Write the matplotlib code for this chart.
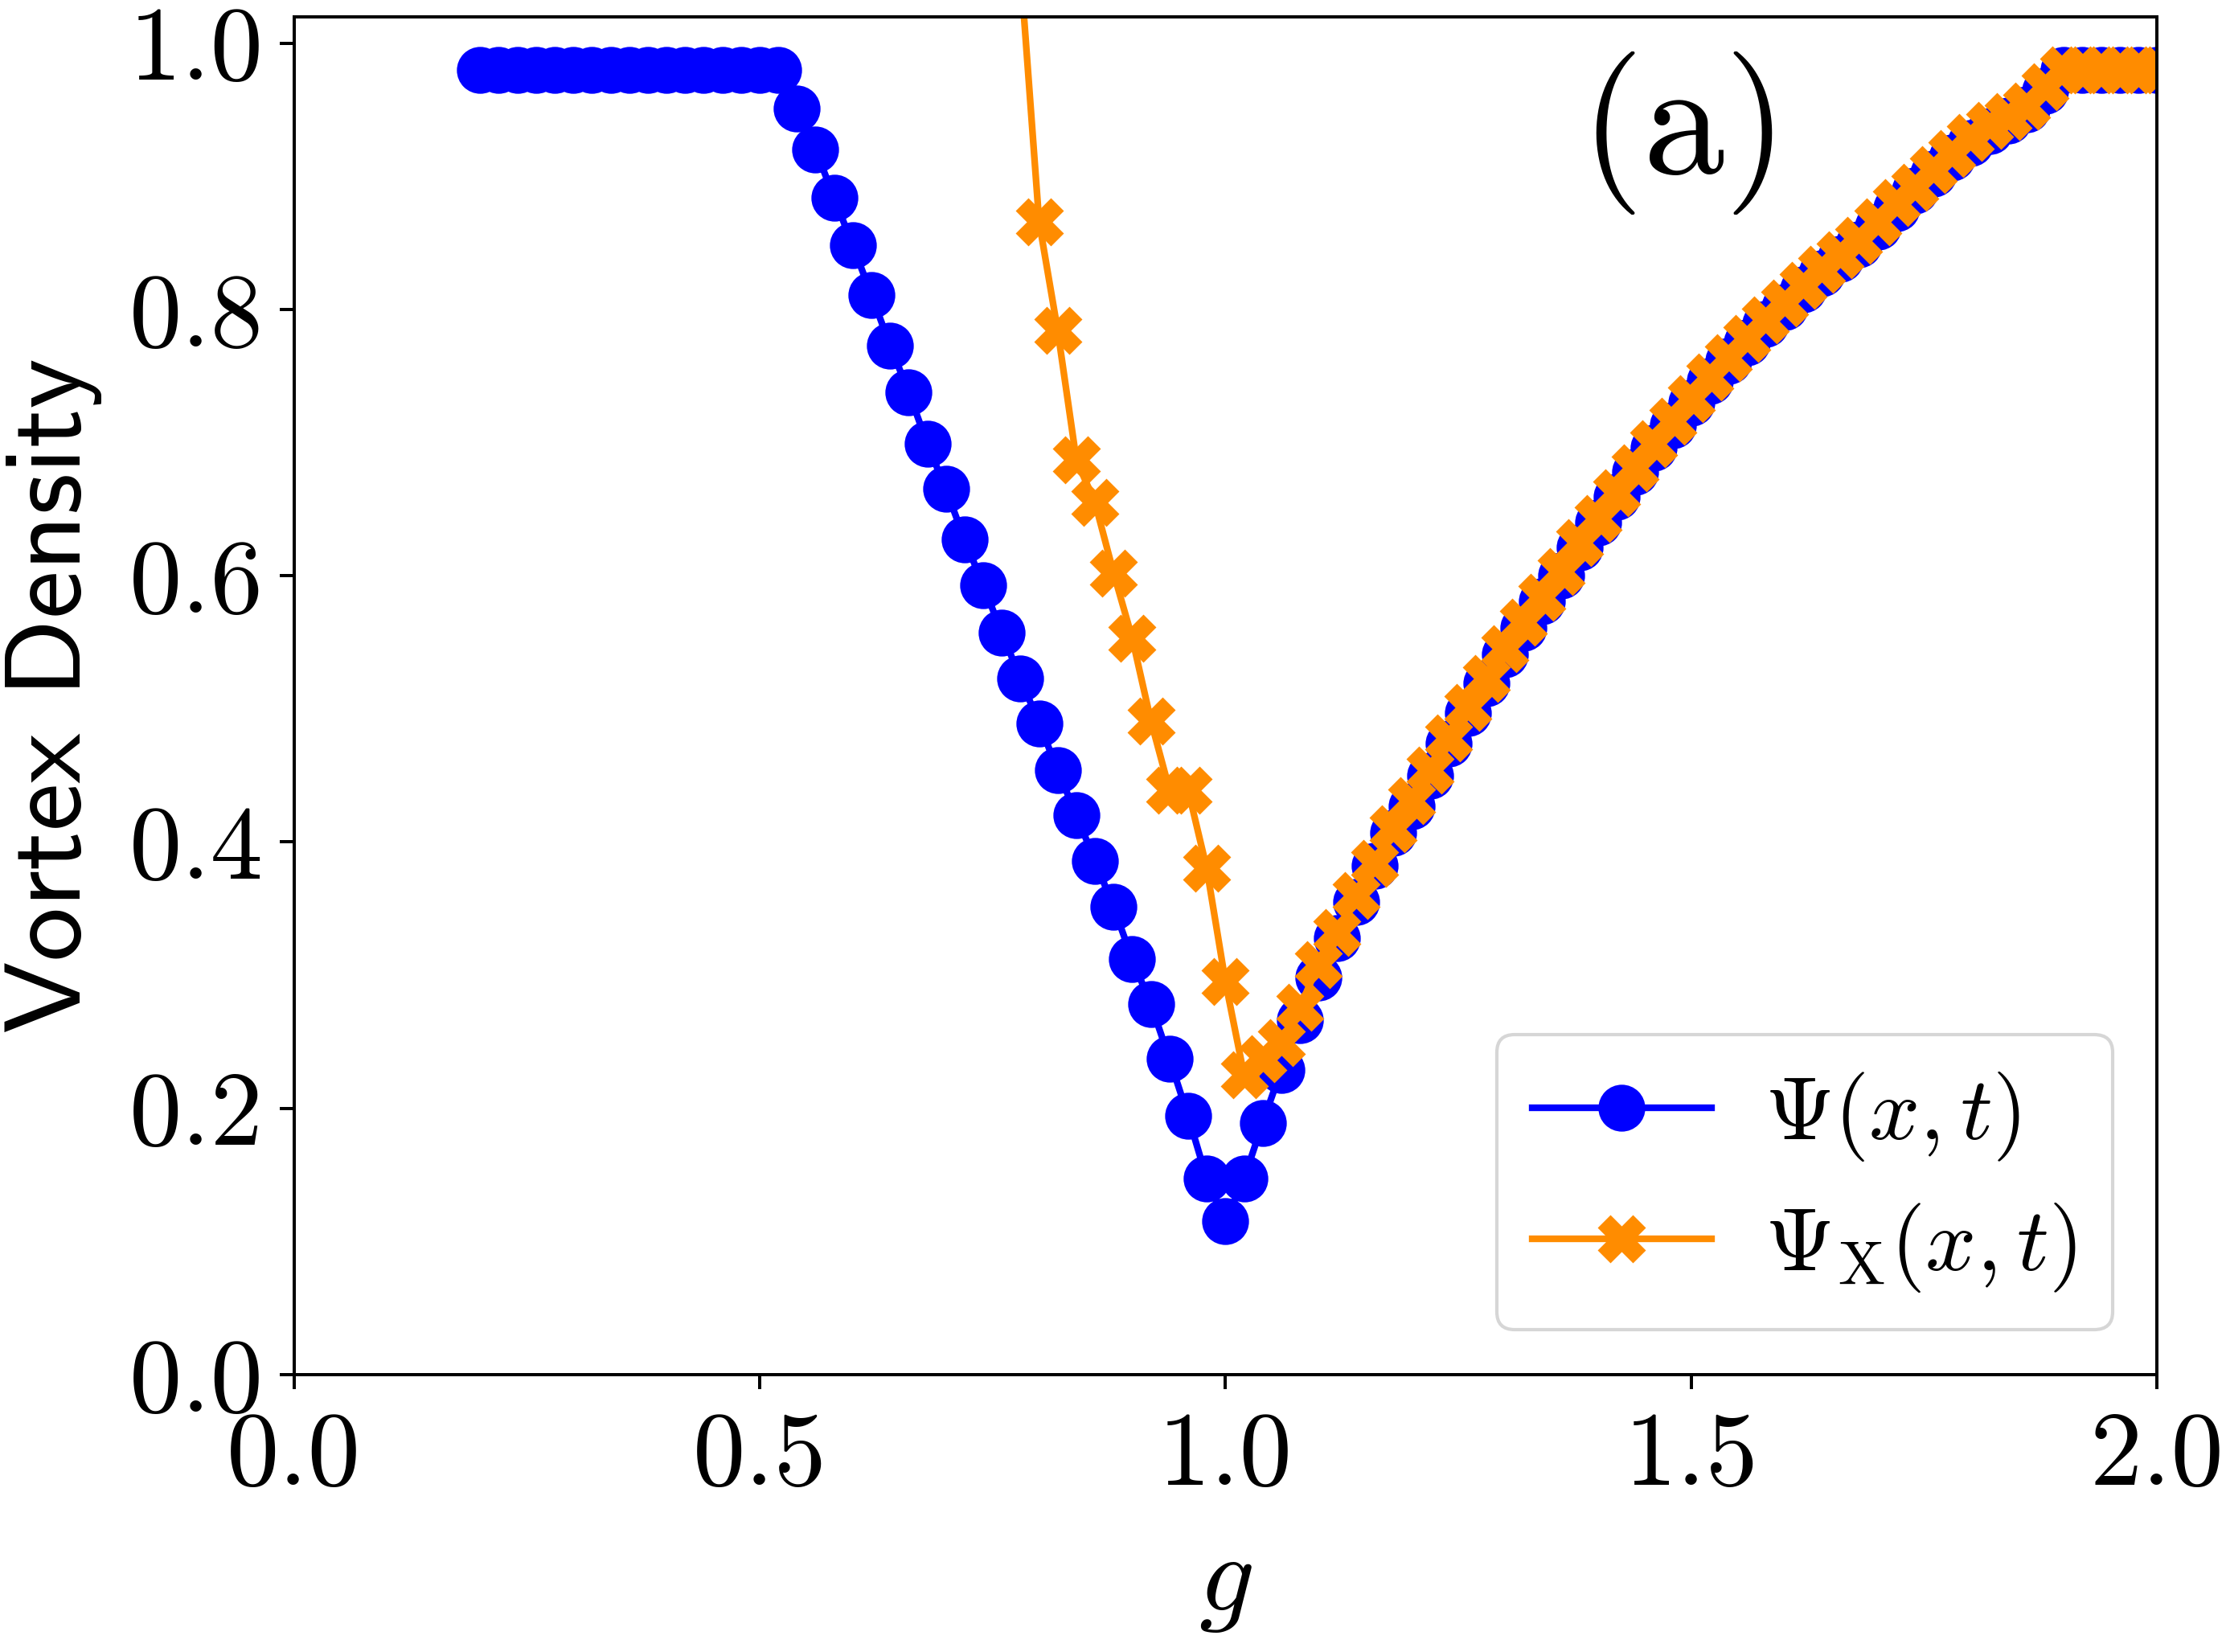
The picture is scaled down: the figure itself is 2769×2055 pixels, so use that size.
import matplotlib
matplotlib.use("Agg")
import matplotlib.pyplot as plt

plt.rcParams['mathtext.fontset'] = 'cm'
plt.rcParams['font.family'] = 'serif'
plt.rcParams['font.serif'] = ['cmr10']
plt.rcParams['axes.formatter.use_mathtext'] = True

# ---------------- data ----------------
g_psi = [0.20, 0.22, 0.24, 0.26, 0.28, 0.30, 0.32, 0.34, 0.36, 0.38, 0.40, 0.42,
         0.44, 0.46, 0.48, 0.50, 0.52, 0.54, 0.56, 0.58, 0.60, 0.62, 0.64, 0.66,
         0.68, 0.70, 0.72, 0.74, 0.76, 0.78, 0.80, 0.82, 0.84, 0.86, 0.88, 0.90,
         0.92, 0.94, 0.96, 0.98, 1.00, 1.02, 1.04, 1.06, 1.08, 1.10, 1.12, 1.14,
         1.16, 1.18, 1.20, 1.22, 1.24, 1.26, 1.28, 1.30, 1.32, 1.34, 1.36, 1.38,
         1.40, 1.42, 1.44, 1.46, 1.48, 1.50, 1.52, 1.54, 1.56, 1.58, 1.60, 1.62,
         1.64, 1.66, 1.68, 1.70, 1.72, 1.74, 1.76, 1.78, 1.80, 1.82, 1.84, 1.86,
         1.88, 1.90, 1.92, 1.94, 1.96, 1.98, 2.00]
v_psi = [0.980, 0.980, 0.980, 0.980, 0.980, 0.980, 0.980, 0.980, 0.980, 0.980,
         0.980, 0.980, 0.980, 0.980, 0.980, 0.980, 0.980, 0.951, 0.920, 0.884,
         0.848, 0.811, 0.773, 0.738, 0.699, 0.665, 0.627, 0.593, 0.557, 0.523,
         0.489, 0.454, 0.420, 0.386, 0.351, 0.312, 0.278, 0.237, 0.194, 0.147,
         0.115, 0.147, 0.189, 0.229, 0.266, 0.298, 0.328, 0.355, 0.382, 0.407,
         0.427, 0.450, 0.474, 0.497, 0.519, 0.541, 0.561, 0.581, 0.600, 0.621,
         0.640, 0.659, 0.678, 0.696, 0.713, 0.730, 0.746, 0.761, 0.775, 0.789,
         0.802, 0.815, 0.827, 0.838, 0.849, 0.862, 0.876, 0.889, 0.902, 0.914,
         0.925, 0.934, 0.942, 0.950, 0.964, 0.980, 0.980, 0.980, 0.980, 0.980,
         0.980]

g_psix = [0.78, 0.80, 0.82, 0.84, 0.86, 0.88, 0.90, 0.92, 0.94, 0.96, 0.98, 1.00,
          1.02, 1.04, 1.06, 1.08, 1.10, 1.12, 1.14, 1.16, 1.18, 1.20, 1.22, 1.24,
          1.26, 1.28, 1.30, 1.32, 1.34, 1.36, 1.38, 1.40, 1.42, 1.44, 1.46, 1.48,
          1.50, 1.52, 1.54, 1.56, 1.58, 1.60, 1.62, 1.64, 1.66, 1.68, 1.70, 1.72,
          1.74, 1.76, 1.78, 1.80, 1.82, 1.84, 1.86, 1.88, 1.90, 1.92, 1.94, 1.96,
          1.98, 2.00]
v_psix = [1.056, 0.866, 0.784, 0.687, 0.655, 0.602, 0.553, 0.491, 0.439, 0.439,
          0.380, 0.295, 0.225, 0.237, 0.249, 0.276, 0.308, 0.332, 0.360, 0.384,
          0.410, 0.431, 0.454, 0.478, 0.501, 0.523, 0.545, 0.565, 0.584, 0.603,
          0.625, 0.643, 0.662, 0.681, 0.699, 0.716, 0.733, 0.749, 0.764, 0.778,
          0.792, 0.805, 0.818, 0.830, 0.841, 0.852, 0.866, 0.880, 0.892, 0.905,
          0.917, 0.929, 0.938, 0.945, 0.953, 0.967, 0.980, 0.980, 0.980, 0.980,
          0.980, 0.980]

xticks = [0.0, 0.5, 1.0, 1.5, 2.0]
xtick_labels = ['0.0', '0.5', '1.0', '1.5', '2.0']
yticks = [0.0, 0.2, 0.4, 0.6, 0.8, 1.0]
ytick_labels = ['0.0', '0.2', '0.4', '0.6', '0.8', '1.0']

# ---------------- figure ----------------
fig = plt.figure(figsize=(13.845, 10.275), dpi=200)
ax = fig.add_axes([0.132, 0.168, 0.837, 0.822])

ax.plot(g_psi, v_psi, color='#0000ff', marker='o', markersize=20, lw=3,
        label=r'$\Psi(x,t)$')
ax.plot(g_psix, v_psix, color='darkorange', marker='X', markersize=20, lw=3,
        label=r'$\Psi_{\rm X}(x,t)$')

ax.set_xlim(0, 2)
ax.set_ylim(0, 1.02)
ax.set_xticks(xticks)
ax.set_xticklabels(xtick_labels)
ax.set_yticks(yticks)
ax.set_yticklabels(ytick_labels)
ax.tick_params(labelsize=47, length=6.6, width=1.44)
ax.tick_params(axis='x', pad=10)
ax.tick_params(axis='y', pad=7)
for s in ax.spines.values():
    s.set_linewidth(1.44)

ax.set_xlabel(r'$g$', fontsize=49, labelpad=14)
ax.set_ylabel('Vortex Density', fontsize=48.5, fontname='cmss10', labelpad=12)

ax.text(0.746, 0.914, '(a)', transform=ax.transAxes, fontsize=73,
        ha='center', va='center')

leg = ax.legend(loc='lower right', fontsize=40, handlelength=2.0,
                handletextpad=0.6, labelspacing=0.42, borderaxespad=0.5)
leg.get_frame().set_linewidth(1.5)

fig.savefig('out.png', dpi=200)
